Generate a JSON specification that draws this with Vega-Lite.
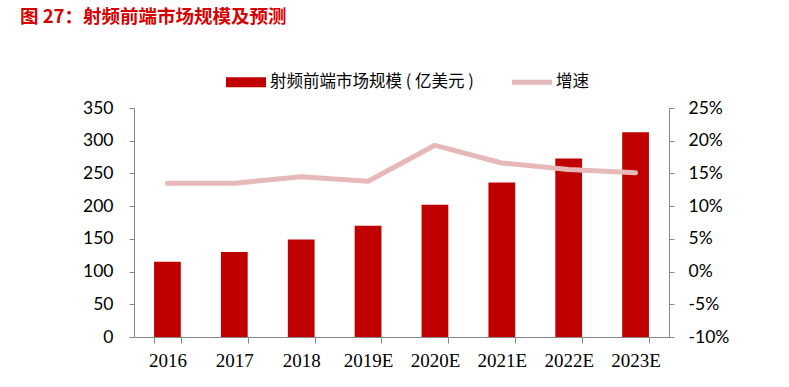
{
  "$schema": "https://vega.github.io/schema/vega-lite/v6.json",
  "autosize": "none",
  "width": 535,
  "height": 229,
  "padding": {"left": 134, "top": 108, "right": 120, "bottom": 50},
  "background": "white",
  "title": {
    "text": "图 27：射频前端市场规模及预测",
    "anchor": "start",
    "frame": "group",
    "dx": -114,
    "offset": 36,
    "color": "#D60000",
    "font": "Noto Sans CJK SC",
    "fontSize": 18.5,
    "fontWeight": "bold"
  },
  "data": {
    "values": [
      {"year": "2016", "size": 115, "growth": 0.135},
      {"year": "2017", "size": 130, "growth": 0.135},
      {"year": "2018", "size": 149, "growth": 0.145},
      {"year": "2019E", "size": 170, "growth": 0.138},
      {"year": "2020E", "size": 202, "growth": 0.193},
      {"year": "2021E", "size": 236, "growth": 0.166},
      {"year": "2022E", "size": 273, "growth": 0.156},
      {"year": "2023E", "size": 313, "growth": 0.151}
    ]
  },
  "encoding": {
    "x": {
      "field": "year",
      "type": "nominal",
      "sort": null,
      "scale": {"paddingInner": 0.6, "paddingOuter": 0.3},
      "axis": {
        "title": null,
        "labelAngle": 0,
        "labelFont": "Liberation Serif",
        "labelFontSize": 19,
        "labelColor": "#000000",
        "labelPadding": 8,
        "tickBand": "extent",
        "tickSize": 6,
        "tickColor": "#888888",
        "domainColor": "#888888"
      }
    }
  },
  "layer": [
    {
      "mark": {"type": "bar", "color": "#C00000"},
      "encoding": {
        "y": {
          "field": "size",
          "type": "quantitative",
          "scale": {"domain": [0, 350], "nice": false},
          "axis": {
            "title": null,
            "values": [0, 50, 100, 150, 200, 250, 300, 350],
            "grid": false,
            "labelFont": "Lato",
            "labelFontSize": 17.5,
            "labelColor": "#000000",
            "labelPadding": 16,
            "tickSize": 5,
            "tickColor": "#888888",
            "domainColor": "#888888"
          }
        },
        "color": {
          "datum": "射频前端市场规模 ( 亿美元 )",
          "type": "nominal",
          "scale": {
            "domain": ["射频前端市场规模 ( 亿美元 )", "增速"],
            "range": ["#C00000", "#E6B9B8"]
          },
          "legend": {
            "title": null,
            "orient": "none",
            "direction": "horizontal",
            "legendX": 92,
            "legendY": -46,
            "symbolSize": 1600,
            "symbolStrokeWidth": 0,
            "labelFont": "Noto Sans CJK SC",
            "labelFontSize": 16.5,
            "labelColor": "#000000",
            "labelOffset": 4,
            "labelLimit": 400,
            "columnPadding": 38,
            "encode": {
              "symbols": {
                "update": {
                  "shape": {"signal": "datum.value === '增速' ? 'M-1,-0.12H1V0.12H-1Z' : 'M-1,-0.25H1V0.25H-1Z'"},
                  "fill": {"signal": "datum.value === '增速' ? '#E6B9B8' : '#C00000'"},
                  "strokeWidth": {"value": 0}
                }
              }
            }
          }
        }
      }
    },
    {
      "mark": {"type": "line", "color": "#E6B9B8", "strokeWidth": 5, "strokeCap": "round", "strokeJoin": "round"},
      "encoding": {
        "y": {
          "field": "growth",
          "type": "quantitative",
          "scale": {"domain": [-0.1, 0.25], "nice": false},
          "axis": {
            "title": null,
            "orient": "right",
            "values": [-0.1, -0.05, 0, 0.05, 0.1, 0.15, 0.2, 0.25],
            "format": ".0%",
            "labelExpr": "replace(datum.label, '−', '-')",
            "grid": false,
            "labelFont": "Lato",
            "labelFontSize": 17.5,
            "labelColor": "#000000",
            "labelPadding": 14,
            "tickSize": 5,
            "tickColor": "#888888",
            "domainColor": "#888888"
          }
        }
      }
    }
  ],
  "resolve": {"scale": {"y": "independent"}},
  "config": {"view": {"stroke": null}}
}
